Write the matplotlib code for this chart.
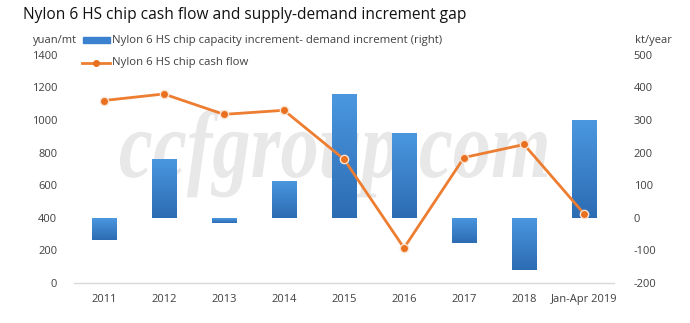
import numpy as np
import matplotlib
matplotlib.use("Agg")
from matplotlib import pyplot as plt
from matplotlib.colors import LinearSegmentedColormap
from matplotlib.font_manager import FontProperties
from matplotlib.textpath import TextPath
from matplotlib.patches import PathPatch
from matplotlib.transforms import Affine2D

# data
categories = ["2011", "2012", "2013", "2014", "2015", "2016", "2017", "2018", "Jan-Apr 2019"]
gap_kt = [-67, 182, -15, 114, 380, 259, -77, -160, 300]          # right axis, kt/year
cash_flow = [1120, 1160, 1035, 1060, 760, 215, 770, 850, 425]   # left axis, yuan/mt

left_ticks = [0, 200, 400, 600, 800, 1000, 1200, 1400]
right_ticks = [-200, -100, 0, 100, 200, 300, 400, 500]

plt.rcParams['font.family'] = ['Open Sans', 'DejaVu Sans']
txt = "#404040"

fig = plt.figure(figsize=(6.9, 3.23), dpi=100, facecolor="white")
ax = fig.add_axes([0.107, 0.124, 0.783, 0.706])
ax2 = ax.twinx()

x = np.arange(len(categories))

# bars on the right axis, with a vertical gradient
bars = ax2.bar(x, gap_kt, width=0.4, color="#3a82cf", zorder=2)
cmap = LinearSegmentedColormap.from_list("blu", ["#2c6cb3", "#4a97e0"])
grad = np.linspace(0, 1, 100).reshape(-1, 1)
for b in bars:
    x0, y0 = b.get_x(), b.get_y()
    w, h = b.get_width(), b.get_height()
    ylo, yhi = min(y0, y0 + h), max(y0, y0 + h)
    im = ax2.imshow(grad, cmap=cmap, origin="lower", aspect="auto",
                    extent=[x0, x0 + w, ylo, yhi], zorder=3)
    im.set_clip_path(b)

ax2.set_ylim(-200, 500)
ax2.set_yticks(right_ticks)
ax2.set_yticklabels([str(t) for t in right_ticks], fontsize=8, color=txt)
ax2.tick_params(axis="y", length=0, pad=14)

# cash flow line on the left axis, drawn above the bars
ax.set_zorder(ax2.get_zorder() + 1)
ax.patch.set_visible(False)
ax.plot(x, cash_flow, color="#ed7d31", lw=2, marker="o", ms=6,
        mfc="#e8701e", mec="#fbe3d2", mew=1, zorder=5)
ax.set_ylim(0, 1400)
ax.set_yticks(left_ticks)
ax.set_yticklabels([str(t) for t in left_ticks], fontsize=8, color=txt)
ax.tick_params(axis="y", length=0, pad=12)
ax.set_xlim(-0.5, len(categories) - 0.5)
ax.set_xticks(x)
ax.set_xticklabels(categories, fontsize=8, color=txt)
ax.tick_params(axis="x", length=0, pad=8)
ax.axhline(0, color="#d9d9d9", lw=1, zorder=1, clip_on=False)

for a in (ax, ax2):
    for s in a.spines.values():
        s.set_visible(False)

# watermark, squeezed into the box it takes in the reference (pixel coords)
fp = FontProperties(family="Liberation Serif", style="italic", weight="bold")
wm = TextPath((0, 0), "ccfgroup.com", size=100, prop=fp)
wb = wm.get_extents()
xh = TextPath((0, 0), "x", size=100, prop=fp).get_extents().height
tr = Affine2D().translate(-wb.x0, 0).scale(427 / wb.width, 44 / xh).translate(120, 146)
ax2.add_patch(PathPatch(wm, transform=tr, color="#e8e8e8", lw=0, zorder=1, clip_on=False))

fig.text(0.033, 0.953, "Nylon 6 HS chip cash flow and supply-demand increment gap",
         fontsize=11.2, color="#111111", va="center")
fig.text(0.048, 0.876, "yuan/mt", fontsize=8, color=txt, va="center")
fig.text(0.947, 0.876, "kt/year", fontsize=8, color=txt, va="center", ha="center")

# legend drawn by hand at the top of the plot
fig.patches.append(plt.Rectangle((0.120, 0.866), 0.040, 0.020, transform=fig.transFigure,
                                 color="#3a82cf", figure=fig))
fig.text(0.163, 0.876, "Nylon 6 HS chip capacity increment- demand increment (right)",
         fontsize=8.2, color=txt, va="center")
fig.lines.append(plt.Line2D([0.119, 0.1395, 0.160], [0.805, 0.805, 0.805], transform=fig.transFigure,
                            color="#ed7d31", lw=2, marker="o", ms=4, markevery=[1],
                            mfc="#e8701e", mec="#e8701e"))
fig.text(0.163, 0.805, "Nylon 6 HS chip cash flow", fontsize=8.2, color=txt, va="center")

fig.savefig("out.png", dpi=100)
